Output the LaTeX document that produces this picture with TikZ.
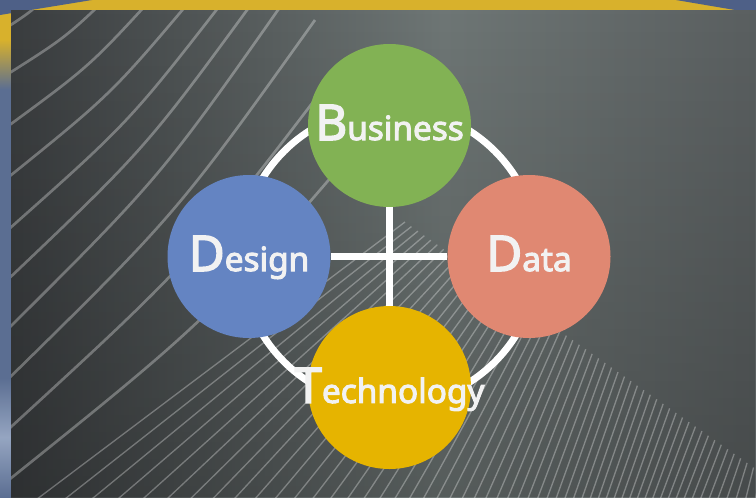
\documentclass[tikz,border=0pt]{standalone}
\usepackage{fontspec}
\setmainfont{Noto Sans}
\newfontfamily\ballfont{Noto Sans}[FakeBold=3]
\usetikzlibrary{calc,fadings}
\definecolor{bandGold}{HTML}{D8B12C}
\definecolor{bandBlue}{HTML}{4E6087}
\definecolor{panelDark}{HTML}{3A3D3F}
\definecolor{panelLight}{HTML}{6E7675}
\definecolor{panelRight}{HTML}{5A5F60}
\definecolor{sideBlue}{HTML}{5B6E92}
\definecolor{sideLight}{HTML}{95A5C1}
\definecolor{colorBiz}{HTML}{82B254}
\definecolor{colorDes}{HTML}{6484C2}
\definecolor{colorDat}{HTML}{E08872}
\definecolor{colorTec}{HTML}{E6B400}
\definecolor{labelWhite}{HTML}{F2F2F2}

\pgfdeclarehorizontalshading{panelshade}{100bp}{color(0bp)=(panelDark); color(25bp)=(panelDark); color(54bp)=(panelLight); color(75bp)=(panelRight); color(100bp)=(panelRight)}
\pgfdeclareverticalshading{sideshade}{100bp}{color(0bp)=(sideBlue); color(25bp)=(sideBlue); color(31bp)=(sideLight); color(37bp)=(sideBlue); color(66bp)=(sideBlue); color(71bp)=(bandGold); color(100bp)=(bandGold)}

% big first letter, rest of the word in the node font
\newcommand{\firstbig}[1]{{\fontsize{37pt}{40pt}\selectfont #1}}

\begin{document}
\begin{tikzpicture}[x=0.75pt, y=-0.75pt,
    ball/.style={circle, minimum size=122.25pt, inner sep=0pt},
    lbl/.style={text=labelWhite, anchor=base, inner sep=0pt,
      font=\ballfont\fontsize{25pt}{28pt}\selectfont},
    spoke/.style={white, line width=5.25pt},
    meshline/.style={white, opacity=0.3, line width=2pt},
    fineline/.style={white, opacity=0.3, line width=1pt}
  ]
  \useasboundingbox (0,0) rectangle (756,497);

  % frame: side strip and top band
  \shade[shading=sideshade] (0,0) rectangle (11,497);
  \fill[bandGold] (11,0) rectangle (756,10);
  \fill[bandBlue] (0,0) -- (92,0) -- (0,15) -- cycle;
  \fill[bandBlue] (676,0) -- (756,0) -- (756,10) -- (735,10) -- cycle;

  % background panel
  \shade[shading=panelshade] (11,10) rectangle (756,497);
  \fill[black, opacity=0.22, path fading=north] (11,10) rectangle (756,497);

  \begin{scope}
    \clip (11,10) rectangle (756,497);
    % lines coming in from the left edge, bowing a little on the way up
    \foreach \sy/\ex/\ey in {25/48/-5, 72/110/-5, 125/155/-5, 177/195/-5,
        230/228/-5, 280/258/-5, 330/285/0, 380/315/20, 430/345/60, 480/380/120} {
      \pgfmathsetmacro{\bow}{0.045*(\ex-11)}
      \pgfmathsetmacro{\cx}{(11+\ex)/2+\bow}
      \pgfmathsetmacro{\cy}{(\sy+\ey)/2+\bow}
      \draw[meshline] (0,{\sy+7}) .. controls (\cx,\cy) .. (\ex,\ey);
    }
    % straight lines coming up from the bottom edge
    \foreach \j in {1,...,56} {
      \pgfmathsetmacro{\t}{\j/56}
      \pgfmathsetmacro{\u}{(\j-1)/55}
      \pgfmathsetmacro{\sx}{11+745*(2.2*\t-2.15*\t*\t+0.95*\t*\t*\t)}
      \pgfmathsetmacro{\ex}{405+355*\u}
      \pgfmathsetmacro{\ey}{222+250*\u}
      \draw[fineline] ($(\sx,497)!-0.2!(\ex,\ey)$) -- (\ex,\ey);
    }
  \end{scope}

  % ring behind the circles
  \draw[spoke] (389.5,256.5) circle[radius=149];

  \node[ball, fill=colorBiz] (biz) at (389.5,125.5) {};
  \node[ball, fill=colorDes] (des) at (249,256.5) {};
  \node[ball, fill=colorDat] (dat) at (529,256.5) {};
  \node[ball, fill=colorTec] (tec) at (389.5,387.5) {};

  \draw[spoke] (biz) -- (tec);
  \draw[spoke] (des) -- (dat);

  \node[lbl] (bizlbl) at ([yshift=-10.9pt]biz.center) {\firstbig{B}usiness};
  \node[lbl] (deslbl) at ([yshift=-10.9pt]des.center) {\firstbig{D}esign};
  \node[lbl] (datlbl) at ([yshift=-10.9pt]dat.center) {\firstbig{D}ata};
  \node[lbl] (teclbl) at ([yshift=-11.6pt]tec.center) {\firstbig{T}echnology};
\end{tikzpicture}
\end{document}
